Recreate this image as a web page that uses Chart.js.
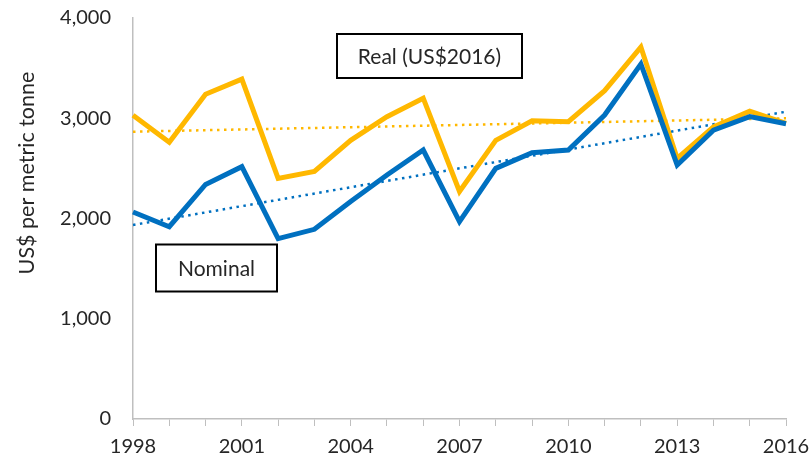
<!DOCTYPE html>
<html>
<head>
<meta charset="utf-8">
<script src="https://cdn.jsdelivr.net/npm/chart.js@4/dist/chart.umd.min.js"></script>
<style>
html,body{margin:0;padding:0;background:#fff;}
#wrap{width:812px;height:464px;position:relative;}
</style>
</head>
<body>
<div id="wrap"><canvas id="c" width="812" height="464"></canvas></div>
<script>
const years = ['1998','1999','2000','2001','2002','2003','2004','2005','2006','2007','2008','2009','2010','2011','2012','2013','2014','2015','2016'];
const realValues = [3030,2760,3240,3390,2400,2470,2780,3015,3200,2270,2780,2975,2965,3275,3710,2600,2915,3070,2950];
const nominalValues = [2065,1918,2340,2517,1800,1892,2170,2434,2683,1968,2500,2657,2683,3032,3541,2534,2880,3016,2945];
const realTrend = [2866,null,null,null,null,null,null,null,null,null,null,null,null,null,null,null,null,null,3000];
const nominalTrend = [1935,null,null,null,null,null,null,null,null,null,null,null,null,null,null,null,null,null,3065];
const yTicks = [0,1000,2000,3000,4000];
const labelsShown = ['1998','2001','2004','2007','2010','2013','2016'];
const seriesNames = ['Real (US$2016)','Nominal'];
const yTitle = 'US$ per metric tonne';

const ORANGE = '#FFB800';
const BLUE = '#0070C0';
const FONT = 'Lato, "Open Sans", sans-serif';
const TXT = '#262626';

const boxesPlugin = {
  id: 'boxes',
  afterDatasetsDraw(chart) {
    const ctx = chart.ctx;
    const boxes = [
      {text: seriesNames[0], cx: 337+92.5, cy: 56, w: 185, h: 44},
      {text: seriesNames[1], cx: 156+60.5, cy: 268, w: 121, h: 47}
    ];
    ctx.save();
    boxes.forEach(b => {
      ctx.fillStyle = '#fff';
      ctx.fillRect(b.cx - b.w/2, b.cy - b.h/2, b.w, b.h);
      ctx.strokeStyle = '#000';
      ctx.lineWidth = 2;
      ctx.strokeRect(b.cx - b.w/2, b.cy - b.h/2, b.w, b.h);
      ctx.fillStyle = TXT;
      ctx.font = '21px ' + FONT;
      ctx.textAlign = 'center';
      ctx.textBaseline = 'middle';
      ctx.fillText(b.text, b.cx, b.cy + 1);
    });
    ctx.translate(27, 173);
    ctx.rotate(-Math.PI/2);
    ctx.fillStyle = TXT;
    ctx.font = '21.5px ' + FONT;
    ctx.textAlign = 'center';
    ctx.textBaseline = 'middle';
    ctx.fillText(yTitle, 0, 0);
    ctx.restore();
  }
};

new Chart(document.getElementById('c'), {
  type: 'line',
  data: {
    labels: years,
    datasets: [
      {label: 'Real trend', data: realTrend, borderColor: ORANGE, borderWidth: 2.5, borderDash: [2.5, 4.5], pointRadius: 0, spanGaps: true, fill: false, order: 3},
      {label: 'Nominal trend', data: nominalTrend, borderColor: BLUE, borderWidth: 2.5, borderDash: [2.5, 4.5], pointRadius: 0, spanGaps: true, fill: false, order: 3},
      {label: seriesNames[0], data: realValues, borderColor: ORANGE, borderWidth: 5, pointRadius: 0, tension: 0, fill: false, order: 2},
      {label: seriesNames[1], data: nominalValues, borderColor: BLUE, borderWidth: 5, pointRadius: 0, tension: 0, fill: false, order: 1}
    ]
  },
  options: {
    responsive: false,
    animation: false,
    devicePixelRatio: 1,
    layout: {padding: {top: 18, right: 26, left: 0, bottom: 0}},
    plugins: {legend: {display: false}, tooltip: {enabled: false}},
    scales: {
      x: {
        offset: false,
        grid: {display: true, drawOnChartArea: false, drawTicks: true, tickLength: 7, color: '#BFBFBF', lineWidth: 1},
        border: {display: true, color: '#BFBFBF', width: 1.5},
        ticks: {
          autoSkip: false, maxRotation: 0, minRotation: 0, padding: 9,
          color: TXT, font: {family: FONT, size: 20},
          callback: function(v) { const l = this.getLabelForValue(v); return labelsShown.includes(l) ? l : ''; }
        },
        afterFit(s) { s.height = 45; s.paddingLeft = 0; s.paddingRight = 0; }
      },
      y: {
        min: 0, max: 4000,
        afterBuildTicks(s) { s.ticks = yTicks.map(v => ({value: v})); },
        grid: {display: false},
        border: {display: true, color: '#BFBFBF', width: 1.5},
        ticks: {
          padding: 14, color: TXT, font: {family: FONT, size: 20},
          callback: v => v.toLocaleString('en-US')
        },
        afterFit(s) { s.width = 133; s.paddingTop = 0; s.paddingBottom = 0; }
      }
    }
  },
  plugins: [boxesPlugin]
});
</script>
</body>
</html>
